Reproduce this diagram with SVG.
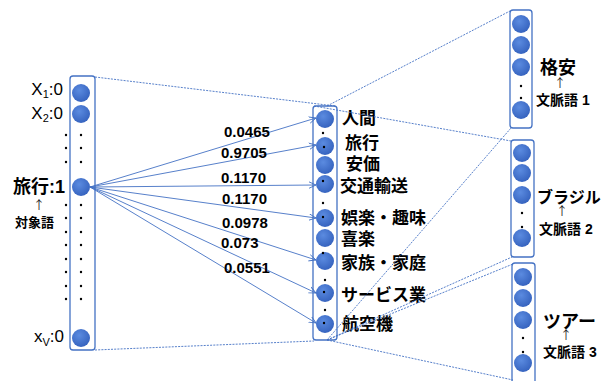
<svg xmlns="http://www.w3.org/2000/svg" width="603" height="381" viewBox="0 0 603 381">
<style>
.box{fill:#fff;stroke:#4472c4;stroke-width:1.3}
.n{fill:url(#g)}
.d{fill:#000}
.proj{stroke:#4472c4;stroke-width:0.9;stroke-dasharray:2 1.2;fill:none}
.arr{stroke:#4472c4;stroke-width:0.9;fill:none;marker-end:url(#ah)}
text{font-family:"Liberation Sans","Noto Sans CJK JP",sans-serif;fill:#000}
.lbl{font-size:17px}
.w{font-size:15px;font-weight:bold}
.m{font-size:17px;font-weight:bold}
.up{font-family:"Noto Sans CJK JP",sans-serif;font-size:12px;text-anchor:middle;fill:#222}
.ctx{font-size:14px;font-weight:bold}
</style>
<defs>
<radialGradient id="g" cx="0.4" cy="0.35" r="0.7">
<stop offset="0" stop-color="#5b8be0"/>
<stop offset="1" stop-color="#3461bd"/>
</radialGradient>
<marker id="ah" markerWidth="8" markerHeight="8" refX="7" refY="4" orient="auto" markerUnits="userSpaceOnUse">
<path d="M0,0.8 L7,4 L0,7.2" fill="none" stroke="#4472c4" stroke-width="0.9"/>
</marker>
</defs>

<g id="input">
<rect class="box" x="70" y="76" width="25" height="274" rx="3"/>
<circle class="n" cx="81" cy="93" r="9"/>
<circle class="n" cx="81" cy="114" r="9"/>
<circle class="n" cx="81" cy="187" r="9"/>
<circle class="n" cx="81" cy="338" r="9"/>
<g class="d">
<circle cx="81" cy="135" r="1.2"/><circle cx="81" cy="148" r="1.2"/><circle cx="81" cy="162" r="1.2"/>
<circle cx="81" cy="205" r="1.2"/><circle cx="81" cy="218" r="1.2"/><circle cx="81" cy="232" r="1.2"/><circle cx="81" cy="245" r="1.2"/><circle cx="81" cy="259" r="1.2"/><circle cx="81" cy="272" r="1.2"/><circle cx="81" cy="286" r="1.2"/><circle cx="81" cy="299" r="1.2"/>
<circle cx="66" cy="135" r="1.2"/><circle cx="66" cy="148" r="1.2"/><circle cx="66" cy="162" r="1.2"/>
<circle cx="66" cy="205" r="1.2"/><circle cx="66" cy="218" r="1.2"/><circle cx="66" cy="232" r="1.2"/><circle cx="66" cy="245" r="1.2"/><circle cx="66" cy="259" r="1.2"/><circle cx="66" cy="272" r="1.2"/><circle cx="66" cy="286" r="1.2"/><circle cx="66" cy="299" r="1.2"/>
</g>
<text class="lbl" x="63" y="95" text-anchor="end">X<tspan font-size="11" dy="3">1</tspan><tspan dy="-3">:0</tspan></text>
<text class="lbl" x="63" y="119" text-anchor="end">X<tspan font-size="11" dy="3">2</tspan><tspan dy="-3">:0</tspan></text>
<text x="65" y="193" text-anchor="end" font-size="18" font-weight="bold">旅行:1</text>
<text class="up" x="39" y="210">↑</text>
<text x="15" y="227" font-size="13" font-weight="bold">対象語</text>
<text class="lbl" x="64" y="342" text-anchor="end">x<tspan font-size="11" dy="4">V</tspan><tspan dy="-4">:0</tspan></text>
</g>

<g id="hidden">
<rect class="box" x="313" y="106" width="24" height="234" rx="3"/>
<circle class="n" cx="325" cy="119" r="9"/>
<circle class="n" cx="325" cy="146" r="9"/>
<circle class="n" cx="325" cy="165" r="9"/>
<circle class="n" cx="325" cy="184" r="9"/>
<circle class="n" cx="325" cy="218" r="9"/>
<circle class="n" cx="325" cy="238" r="9"/>
<circle class="n" cx="325" cy="261" r="9"/>
<circle class="n" cx="325" cy="293" r="9"/>
<circle class="n" cx="325" cy="324" r="9"/>
<g class="d">
<circle cx="323" cy="133" r="1.2"/><circle cx="324" cy="147" r="1.2"/><circle cx="323" cy="181" r="1.2"/><circle cx="323" cy="203" r="1.2"/><circle cx="323" cy="217" r="1.2"/><circle cx="323" cy="253" r="1.2"/><circle cx="325" cy="280" r="1.2"/><circle cx="324" cy="292" r="1.2"/><circle cx="325" cy="310" r="1.2"/><circle cx="324" cy="323" r="1.2"/>
</g>
<text class="m" x="342" y="124">人間</text>
<text class="m" x="345" y="149">旅行</text>
<text class="m" x="346" y="170">安価</text>
<text class="m" x="340" y="192">交通輸送</text>
<text class="m" x="341" y="224">娯楽・趣味</text>
<text class="m" x="341" y="245">喜楽</text>
<text class="m" x="341" y="269">家族・家庭</text>
<text class="m" x="341" y="301">サービス業</text>
<text class="m" x="342" y="330">航空機</text>
</g>

<g id="ctx1">
<rect class="box" x="510" y="10" width="22" height="118" rx="3"/>
<circle class="n" cx="521" cy="24" r="9"/>
<circle class="n" cx="521" cy="45" r="9"/>
<circle class="n" cx="521" cy="67" r="9"/>
<circle class="n" cx="521" cy="110" r="9"/>
<circle class="d" cx="521" cy="86" r="1.2"/><circle class="d" cx="521" cy="98" r="1.2"/>
<text x="540" y="74" font-size="18" font-weight="bold">格安</text>
<text class="up" x="560" y="88">↑</text>
<text class="ctx" x="536" y="105">文脈語 1</text>
</g>

<g id="ctx2">
<rect class="box" x="511" y="140" width="23" height="117" rx="3"/>
<circle class="n" cx="522" cy="153" r="9"/>
<circle class="n" cx="522" cy="173" r="9"/>
<circle class="n" cx="522" cy="195" r="9"/>
<circle class="n" cx="522" cy="238" r="9"/>
<circle class="d" cx="522" cy="213" r="1.2"/><circle class="d" cx="522" cy="227" r="1.2"/>
<text x="537" y="203" font-size="16" font-weight="bold">ブラジル</text>
<text class="up" x="562" y="216">↑</text>
<text class="ctx" x="539" y="234">文脈語 2</text>
</g>

<g id="ctx3">
<rect class="box" x="512" y="263" width="23" height="122" rx="3"/>
<circle class="n" cx="523" cy="277" r="9"/>
<circle class="n" cx="523" cy="298" r="9"/>
<circle class="n" cx="523" cy="320" r="9"/>
<circle class="n" cx="523" cy="363" r="9"/>
<circle class="d" cx="523" cy="338" r="1.2"/><circle class="d" cx="523" cy="352" r="1.2"/>
<text x="543" y="328" font-size="18" font-weight="bold">ツアー</text>
<text class="up" x="566" y="340">↑</text>
<text class="ctx" x="543" y="357">文脈語 3</text>
</g>

<g id="connectors">
<line class="proj" x1="95" y1="77" x2="335" y2="106"/>
<line class="proj" x1="95" y1="350" x2="314" y2="341"/>
<line class="proj" x1="327" y1="106" x2="510" y2="11"/>
<line class="proj" x1="314" y1="106" x2="511" y2="141"/>
<line class="proj" x1="327" y1="340" x2="511" y2="128"/>
<line class="proj" x1="327" y1="340" x2="512" y2="257"/>
<line class="proj" x1="327" y1="340" x2="513" y2="264"/>
<line class="proj" x1="327" y1="340" x2="513" y2="380"/>
<line class="arr" x1="90" y1="187" x2="316" y2="118"/>
<line class="arr" x1="90" y1="187" x2="316" y2="145"/>
<line class="arr" x1="90" y1="187" x2="316" y2="185"/>
<line class="arr" x1="90" y1="187" x2="316" y2="218"/>
<line class="arr" x1="90" y1="187" x2="316" y2="260"/>
<line class="arr" x1="90" y1="187" x2="316" y2="293"/>
<line class="arr" x1="90" y1="187" x2="316" y2="323"/>
<text class="w" x="224" y="137">0.0465</text>
<text class="w" x="221" y="158">0.9705</text>
<text class="w" x="221" y="183">0.1170</text>
<text class="w" x="222" y="204">0.1170</text>
<text class="w" x="222" y="228">0.0978</text>
<text class="w" x="221" y="248">0.073</text>
<text class="w" x="224" y="273">0.0551</text>
</g>
</svg>
